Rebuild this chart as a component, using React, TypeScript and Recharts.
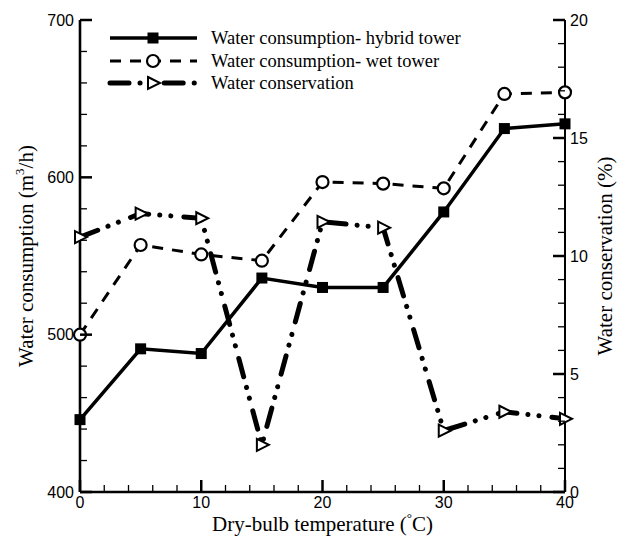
import React from "react";
import { LineChart, Line, XAxis, YAxis, Legend } from "recharts";

const temperatures = [0, 5, 10, 15, 20, 25, 30, 35, 40];
const hybridTower = [446, 491, 488, 536, 530, 530, 578, 631, 634];
const wetTower = [500, 557, 551, 547, 597, 596, 593, 653, 654];
const conservation = [10.8, 11.8, 11.6, 2.0, 11.45, 11.2, 2.6, 3.4, 3.1];

const xMajorTicks = [0, 10, 20, 30, 40];
const leftMajorTicks = [400, 500, 600, 700];
const rightMajorTicks = [0, 5, 10, 15, 20];

const seriesNames = [
  "Water consumption- hybrid tower",
  "Water consumption- wet tower",
  "Water conservation",
];

const steps = (from: number, to: number, step: number) =>
  Array.from({ length: Math.round((to - from) / step) + 1 }, (_, i) => from + i * step);

const xTicks = steps(0, 40, 2);
const leftTicks = steps(400, 700, 20);
const rightTicks = steps(0, 20, 1);

const data = temperatures.map((t, i) => ({
  t,
  hybrid: hybridTower[i],
  wet: wetTower[i],
  saving: conservation[i],
}));

const SANS = "'Liberation Sans', Arial, sans-serif";
const SERIF = "'Liberation Serif', 'Times New Roman', serif";
const MAJOR = 12;
const MINOR = 7;

const WET_DASH = "11 9";
const SAVE_DASH = "19 11 0.1 11 0.1 13";

function BottomTick({ x, y, payload }: any) {
  const major = xMajorTicks.includes(payload.value);
  return (
    <g>
      <line x1={x} x2={x} y1={y} y2={y - (major ? MAJOR : MINOR)} stroke="#000" strokeWidth={major ? 2.5 : 1.3} />
      {major && (
        <text x={x} y={y + 5} dy="0.71em" textAnchor="middle" fontFamily={SANS} fontSize={16} fill="#000">
          {payload.value}
        </text>
      )}
    </g>
  );
}

function LeftTick({ x, y, payload }: any) {
  const major = leftMajorTicks.includes(payload.value);
  return (
    <g>
      <line x1={x} x2={x + (major ? MAJOR : MINOR)} y1={y} y2={y} stroke="#000" strokeWidth={major ? 2.5 : 1.3} />
      {major && (
        <text x={x - 6} y={y} dy="0.35em" textAnchor="end" fontFamily={SANS} fontSize={16} fill="#000">
          {payload.value}
        </text>
      )}
    </g>
  );
}

function RightTick({ x, y, payload }: any) {
  const major = rightMajorTicks.includes(payload.value);
  return (
    <g>
      <line x1={x} x2={x - (major ? MAJOR : MINOR)} y1={y} y2={y} stroke="#000" strokeWidth={major ? 2.5 : 1.3} />
      {major && (
        <text x={x + 5} y={y} dy="0.35em" textAnchor="start" fontFamily={SANS} fontSize={16} fill="#000">
          {payload.value}
        </text>
      )}
    </g>
  );
}

const square = (cx: number, cy: number, key?: any) => (
  <rect key={key} x={cx - 5.5} y={cy - 5.5} width={11} height={11} fill="#000" />
);
const circle = (cx: number, cy: number, key?: any) => (
  <circle key={key} cx={cx} cy={cy} r={6} fill="#fff" stroke="#000" strokeWidth={2.2} />
);
const triangle = (cx: number, cy: number, key?: any) => (
  <polygon
    key={key}
    points={`${cx - 5},${cy - 6} ${cx + 7},${cy} ${cx - 5},${cy + 6}`}
    fill="#fff"
    stroke="#000"
    strokeWidth={2}
  />
);

function XTitle({ viewBox }: any) {
  const { x, y, width } = viewBox;
  return (
    <text x={x + width / 2} y={y + 39} textAnchor="middle" fontFamily={SERIF} fontSize={21} fill="#000">
      Dry-bulb temperature (<tspan fontSize={13} dy={-9}>°</tspan>
      <tspan dy={9}>C)</tspan>
    </text>
  );
}

function LeftTitle({ viewBox }: any) {
  const { x, y, height } = viewBox;
  const cx = x + 33;
  const cy = y + height / 2;
  return (
    <text
      x={cx}
      y={cy}
      transform={`rotate(-90 ${cx} ${cy})`}
      textAnchor="middle"
      fontFamily={SERIF}
      fontSize={21}
      fill="#000"
    >
      Water consumption (m<tspan fontSize={13} dy={-9}>3</tspan>
      <tspan dy={9}>/h)</tspan>
    </text>
  );
}

function RightTitle({ viewBox }: any) {
  const { x, y, height } = viewBox;
  const cx = x + 47;
  const cy = y + height / 2;
  return (
    <text
      x={cx}
      y={cy}
      transform={`rotate(-90 ${cx} ${cy})`}
      textAnchor="middle"
      fontFamily={SERIF}
      fontSize={21}
      fill="#000"
    >
      Water conservation (%)
    </text>
  );
}

function LegendBox() {
  const rows = [
    { y: 13, dash: undefined, width: 3.5, marker: square },
    { y: 36, dash: WET_DASH, width: 3, marker: circle },
    { y: 58, dash: SAVE_DASH, width: 5, marker: triangle },
  ];
  return (
    <svg width={420} height={72}>
      {rows.map((r, i) => (
        <g key={i}>
          <line
            x1={10}
            x2={97}
            y1={r.y}
            y2={r.y}
            stroke="#000"
            strokeWidth={r.width}
            strokeDasharray={r.dash}
            strokeLinecap={i === 2 ? "round" : "butt"}
          />
          {r.marker(53, r.y)}
          <text x={111} y={r.y} dy="0.33em" fontFamily={SERIF} fontSize={18.5} fill="#000">
            {seriesNames[i]}
          </text>
        </g>
      ))}
    </svg>
  );
}

export default function App() {
  return (
    <div style={{ position: "absolute", left: 0, top: 0, background: "#fff" }}>
      <LineChart width={626} height={536} data={data} margin={{ top: 20, right: 0, bottom: 0, left: 0 }}>
        <XAxis
          dataKey="t"
          type="number"
          domain={[0, 40]}
          ticks={xTicks}
          interval={0}
          tickSize={0}
          tickMargin={0}
          tickLine={false}
          tick={<BottomTick />}
          height={44}
          axisLine={{ stroke: "#000", strokeWidth: 2.6 }}
          label={{ content: (p: any) => <XTitle viewBox={p.viewBox} /> }}
        />
        <YAxis
          yAxisId="left"
          domain={[400, 700]}
          ticks={leftTicks}
          interval={0}
          tickSize={0}
          tickMargin={0}
          tickLine={false}
          tick={<LeftTick />}
          width={80}
          axisLine={{ stroke: "#000", strokeWidth: 2.6 }}
          label={{ content: (p: any) => <LeftTitle viewBox={p.viewBox} /> }}
        />
        <YAxis
          yAxisId="right"
          orientation="right"
          domain={[0, 20]}
          ticks={rightTicks}
          interval={0}
          tickSize={0}
          tickMargin={0}
          tickLine={false}
          tick={<RightTick />}
          width={61}
          axisLine={{ stroke: "#000", strokeWidth: 2 }}
          label={{ content: (p: any) => <RightTitle viewBox={p.viewBox} /> }}
        />
        <Legend
          layout="vertical"
          align="center"
          verticalAlign="middle"
          wrapperStyle={{ left: 100, top: 25, width: 420, height: 72 }}
          content={() => <LegendBox />}
        />
        <Line
          yAxisId="left"
          dataKey="hybrid"
          stroke="#000"
          strokeWidth={3.5}
          isAnimationActive={false}
          dot={(p: any) => square(p.cx, p.cy, p.index)}
        />
        <Line
          yAxisId="left"
          dataKey="wet"
          stroke="#000"
          strokeWidth={3}
          strokeDasharray={WET_DASH}
          isAnimationActive={false}
          dot={(p: any) => circle(p.cx, p.cy, p.index)}
        />
        <Line
          yAxisId="right"
          dataKey="saving"
          stroke="#000"
          strokeWidth={5}
          strokeLinecap="round"
          strokeDasharray={SAVE_DASH}
          isAnimationActive={false}
          dot={(p: any) => triangle(p.cx, p.cy, p.index)}
        />
      </LineChart>
    </div>
  );
}
